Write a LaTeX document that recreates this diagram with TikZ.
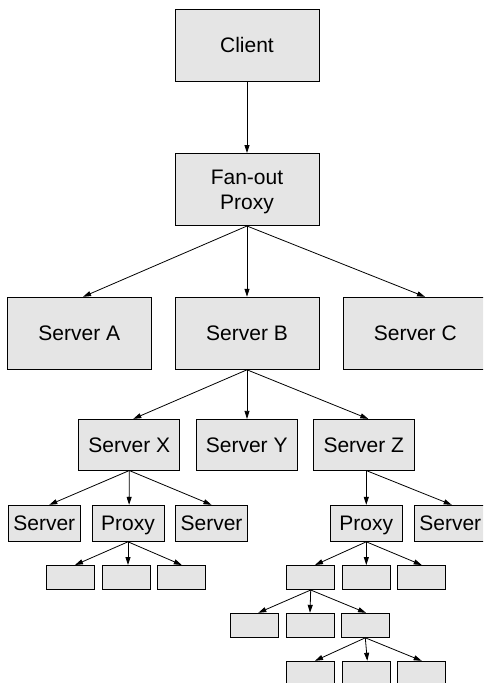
\documentclass[tikz,border=0pt]{standalone}
\usepackage{fontspec}
\setmainfont{Liberation Sans}
\usetikzlibrary{arrows.meta}
\definecolor{boxfill}{HTML}{E5E5E5}
\tikzset{
  box/.style={draw=black, fill=boxfill, line width=1pt, inner sep=0pt,
    font=\fontsize{21}{25.5}\selectfont, text height=15.1pt, text depth=0pt},
  big/.style={box, minimum width=144pt, minimum height=72pt},
  mid/.style={box, minimum width=100.7pt, minimum height=50.7pt},
  sml/.style={box, minimum width=72pt, minimum height=36pt},
  tiny/.style={box, minimum width=48pt, minimum height=24pt},
  conn/.style={line width=0.8pt, -{Triangle[length=8pt,width=5pt]}}
}
\begin{document}
\begin{tikzpicture}[x=1pt,y=-1pt]
\useasboundingbox (0,0) rectangle (483,683);
\clip (0,0) rectangle (483,683);
% level 1-2
\node[big] (client) at (247,45.3) {Client};
\node[big, align=center, text height=40.6pt] (fan) at (247,189.5) {Fan-out\\Proxy};
% level 3
\node[big] (sa) at (79.3,333.3) {Server A};
\node[big] (sb) at (247,333.3) {Server B};
\node[big] (sc) at (415.3,333.3) {Server C};
% level 4
\node[mid] (sx) at (129.3,444.7) {Server X};
\node[mid] (sy) at (246.7,444.7) {Server Y};
\node[mid] (sz) at (363.8,444.7) {Server Z};
% level 5
\node[sml] (xl) at (44.3,523.3) {Server};
\node[sml] (xp) at (128,523.3) {Proxy};
\node[sml] (xr) at (211.5,523.3) {Server};
\node[sml] (zp) at (366.3,523.3) {Proxy};
\node[sml] (zr) at (450.3,523.3) {Server};
% level 6
\node[tiny] (a1) at (70.8,577.5) {};
\node[tiny] (a2) at (126.3,577.5) {};
\node[tiny] (a3) at (181.8,577.5) {};
\node[tiny] (b1) at (310.7,577.5) {};
\node[tiny] (b2) at (366.3,577.5) {};
\node[tiny] (b3) at (421.7,577.5) {};
% level 7
\node[tiny] (c1) at (254.5,625.3) {};
\node[tiny] (c2) at (310,625.3) {};
\node[tiny] (c3) at (365.3,625.3) {};
% level 8
\node[tiny] (d1) at (310.7,673.3) {};
\node[tiny] (d2) at (366.3,673.3) {};
\node[tiny] (d3) at (421.7,673.3) {};
% connectors
\draw[conn] (client.south) -- (fan.north);
\draw[conn] (fan.south) -- ([xshift=3.7pt]sa.north);
\draw[conn] (fan.south) -- (sb.north);
\draw[conn] (fan.south) -- ([xshift=9.7pt]sc.north);
\draw[conn] (sb.south) -- ([xshift=4pt]sx.north);
\draw[conn] (sb.south) -- ([xshift=0.3pt]sy.north);
\draw[conn] (sb.south) -- ([xshift=4.5pt]sz.north);
\draw[conn] (sx.south) -- ([xshift=5pt]xl.north);
\draw[conn] (sx.south) -- ([xshift=1.1pt]xp.north);
\draw[conn] (sx.south) -- (xr.north);
\draw[conn] ([xshift=2.5pt]sz.south) -- (zp.north);
\draw[conn] ([xshift=2.5pt]sz.south) -- ([xshift=1.4pt]zr.north);
\draw[conn] (xp.south) -- ([xshift=4.2pt]a1.north);
\draw[conn] (xp.south) -- ([xshift=1.7pt]a2.north);
\draw[conn] (xp.south) -- (a3.north);
\draw[conn] (zp.south) -- ([xshift=4.3pt]b1.north);
\draw[conn] (zp.south) -- (b2.north);
\draw[conn] (zp.south) -- (b3.north);
\draw[conn] (b1.south) -- ([xshift=3.8pt]c1.north);
\draw[conn] (b1.south) -- (c2.north);
\draw[conn] (b1.south) -- ([xshift=0.7pt]c3.north);
\draw[conn] (c3.south) -- ([xshift=4.3pt]d1.north);
\draw[conn] (c3.south) -- ([xshift=1pt]d2.north);
\draw[conn] (c3.south) -- (d3.north);
\end{tikzpicture}
\end{document}
